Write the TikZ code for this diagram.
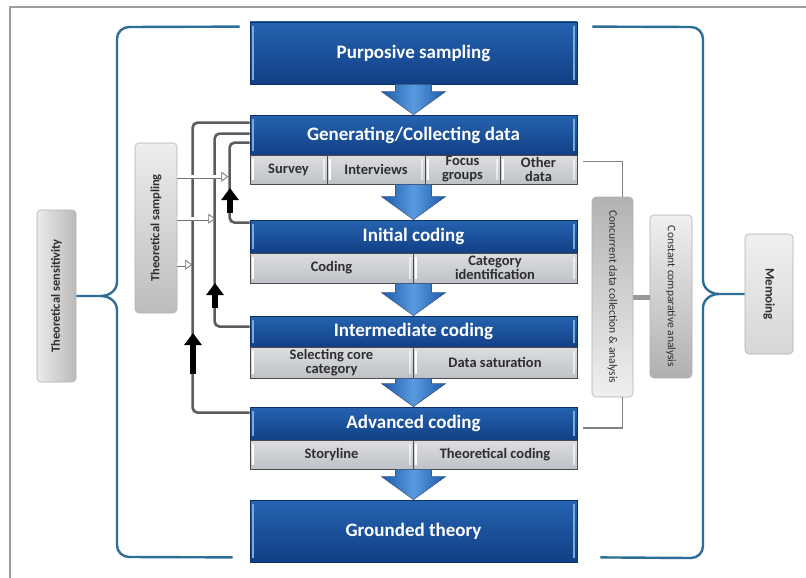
\documentclass[tikz,border=0pt]{standalone}
\usepackage{fontspec}
\setmainfont{Carlito}
\usetikzlibrary{arrows.meta,calc}

\definecolor{stageTop}{HTML}{2563B0}
\definecolor{stageBot}{HTML}{123F85}
\definecolor{stageEdge}{HTML}{0D2F66}
\definecolor{stageHi}{HTML}{78A9E0}
\definecolor{cellTop}{HTML}{DCDEE1}
\definecolor{cellBot}{HTML}{BEC1C6}
\definecolor{cellEdge}{HTML}{4A4A4A}
\definecolor{pipeGray}{HTML}{5C5C5C}
\definecolor{braceBlue}{HTML}{2C6E97}
\definecolor{frameGray}{HTML}{9C9C9C}
\definecolor{inkGray}{HTML}{2E2E2E}
\definecolor{flowDark}{HTML}{1C59AA}
\definecolor{flowLight}{HTML}{5A9BDF}

\tikzset{
  stage/.style={draw=stageEdge, line width=0.8pt, top color=stageTop, bottom color=stageBot,
    minimum width=327pt, inner sep=0pt, text=white,
    font=\bfseries\fontsize{19}{21}\selectfont},
  cell/.style={draw=cellEdge, line width=0.9pt, top color=cellTop, bottom color=cellBot,
    inner sep=0pt, text=inkGray, align=center,
    font=\bfseries\fontsize{14.5}{14}\selectfont},
  sidebox/.style={draw=black!30, line width=0.6pt, rounded corners=4pt, inner sep=0pt,
    text=inkGray},
  flow/.style={draw=stageEdge!80, line width=0.6pt, left color=flowDark,
    right color=flowDark, middle color=flowLight},
  pipe/.style={draw=pipeGray, line width=2.6pt, rounded corners=5pt},
  liftarrow/.style={draw=black, line width=5.5pt, -{Triangle[length=12pt,width=17pt]}},
  hollowarrow/.style={draw=black!55, line width=0.8pt, double=white, double distance=2.8pt,
    -{Triangle[open,length=7pt,width=10pt]}},
  link/.style={draw=black!50, line width=1.8pt},
  bar/.style={draw=black!40, line width=5pt},
  bracket/.style={draw=braceBlue, line width=2.4pt},
  highlight/.style={draw=stageHi, line width=1.4pt},
  cellshine/.style={draw=white, line width=1.6pt},
}

% block arrow from the bottom of one stage to the top of the next
\newcommand\flowarrow[2]{%
  \path[flow] let \p1=(#1.south), \p2=(#2.north) in
    (\x2-18pt,\y1) -- (\x2-18pt,\y2+23pt) -- (\x2-32pt,\y2+23pt) -- (\x2,\y2)
    -- (\x2+32pt,\y2+23pt) -- (\x2+18pt,\y2+23pt) -- (\x2+18pt,\y1) -- cycle;}

\begin{document}
\begin{tikzpicture}[x=1pt,y=-1pt]
\path[use as bounding box] (0,0) rectangle (806,578);
\clip (0,0) rectangle (806,578);
\fill[white] (0,0) rectangle (806,578);
\draw[frameGray, line width=1.4pt] (10,7) rectangle (830,600);

% ---- main column ----
\node[stage, minimum height=62pt] (ps) at (413.5,53) {Purposive sampling};

\node[stage, minimum height=40pt] (gc) at (413.5,135) {Generating/Collecting data};
\node[cell, minimum width=77pt, minimum height=29pt] (survey) at (288.5,169.5) {Survey};
\node[cell, minimum width=98pt, minimum height=29pt] (interviews) at (376,169.5) {Interviews};
\node[cell, minimum width=75pt, minimum height=29pt] (focus) at (462.5,169.5) {Focus\\groups};
\node[cell, minimum width=77pt, minimum height=29pt] (other) at (538.5,169.5) {Other\\data};

\node[stage, minimum height=33pt] (ic) at (413.5,236.5) {Initial coding};
\node[cell, minimum width=163pt, minimum height=30pt] (coding) at (331.5,268) {Coding};
\node[cell, minimum width=164pt, minimum height=30pt] (catid) at (495,268) {Category\\identification};

\node[stage, minimum height=31pt] (mc) at (413.5,331.5) {Intermediate coding};
\node[cell, minimum width=163pt, minimum height=31pt] (core) at (331.5,362.5) {Selecting core\\category};
\node[cell, minimum width=164pt, minimum height=31pt] (saturation) at (495,362.5) {Data saturation};

\node[stage, minimum height=33pt] (ac) at (413.5,423.5) {Advanced coding};
\node[cell, minimum width=163pt, minimum height=29pt] (story) at (331.5,454.5) {Storyline};
\node[cell, minimum width=164pt, minimum height=29pt] (theocoding) at (495,454.5) {Theoretical coding};

\node[stage, minimum height=62pt] (gt) at (413.5,531) {Grounded theory};

% glossy edges
\foreach \n in {ps,gc,ic,mc,ac,gt}{
  \draw[highlight] ($(\n.north west)+(3.5,4)$) -- ($(\n.south west)+(3.5,-4)$);
  \draw[highlight] ($(\n.north east)+(-3.5,4)$) -- ($(\n.south east)+(-3.5,-4)$);
}
\foreach \n in {survey,interviews,focus,other,coding,catid,core,saturation,story,theocoding}{
  \draw[cellshine] ($(\n.north west)+(3.5,4)$) -- ($(\n.south west)+(3.5,-4)$);
  \draw[cellshine, opacity=0.6] ($(\n.north east)+(-3.5,4)$) -- ($(\n.south east)+(-3.5,-4)$);
}

% block arrows
\flowarrow{ps}{gc}
\flowarrow{focus}{ic}
\flowarrow{catid}{mc}
\flowarrow{saturation}{ac}
\flowarrow{theocoding}{gt}

% ---- side boxes ----
\node[sidebox, left color=black!8, right color=black!27, minimum width=39pt, minimum height=172pt,
  font=\bfseries\fontsize{12.5}{13}\selectfont] (ts) at (56.5,296)
  {\rotatebox{90}{Theoretical sensitivity}};
\node[sidebox, top color=black!7, bottom color=black!26, minimum width=42pt, minimum height=170pt,
  font=\bfseries\fontsize{12.5}{13}\selectfont] (tsa) at (156,228)
  {\rotatebox{90}{Theoretical sampling}};
\node[sidebox, top color=black!30, bottom color=black!6, minimum width=41pt, minimum height=200pt,
  font=\fontsize{11.5}{12}\selectfont] (cd) at (612.5,297)
  {\rotatebox{-90}{Concurrent data collection \& analysis}};
\node[sidebox, top color=black!6, bottom color=black!31, minimum width=42pt, minimum height=163pt,
  font=\fontsize{11.5}{12}\selectfont] (cca) at (671,296.5)
  {\rotatebox{-90}{Constant comparative analysis}};
\node[sidebox, top color=black!6, bottom color=black!16, minimum width=48pt, minimum height=120pt,
  font=\bfseries\fontsize{13}{14}\selectfont] (mem) at (769,294)
  {\rotatebox{-90}{Memoing}};

% ---- feedback loops ----
\draw[pipe] ($(gc.north west)+(0,8)$) -- ++(-57,0) |- ($(ac.north west)+(0,6)$);
\draw[pipe] ($(gc.north west)+(0,19)$) -- ++(-35,0) |- ($(mc.north west)+(0,11)$);
\draw[pipe] ($(gc.north west)+(0,28)$) -- ++(-20,0) |- ($(ic.north west)+(0,3)$);

\coordinate (liftA) at (193,374);
\coordinate (liftB) at (215,308);
\coordinate (liftC) at (230,213);
\draw[liftarrow] (liftA) -- ++(0,-41);
\draw[liftarrow] (liftB) -- ++(0,-25);
\draw[liftarrow] (liftC) -- ++(0,-25);

\draw[hollowarrow] ($(tsa.north east)+(0,34)$) -- ++(51,0);
\draw[hollowarrow] ($(tsa.north east)+(0,76)$) -- ++(38,0);
\draw[hollowarrow] ($(tsa.north east)+(0,122)$) -- ++(15,0);

% ---- right-hand links ----
\draw[link] ($(other.north east)+(6,7)$) -| ($(cd.north)+(10,0)$);
\draw[link] ($(cd.south)+(10,0)$) |- ($(ac.north east)+(6,21)$);
\draw[bar] (cd.east) -- (cd.east -| cca.west);

% ---- braces ----
\draw[bracket] ($(ps.north west)+(-10,5)$) -- (129,27) to[out=180,in=90] (117,39)
  -- (117,282) to[out=-90,in=0] (101,296) -- (ts.east);
\draw[bracket] (101,296) to[out=0,in=90] (117,310) -- (117,545)
  to[out=-90,in=180] (129,557) -- ($(gt.south west)+(-17,-5)$);
\draw[bracket] ($(ps.north east)+(15,5)$) -- (691,27) to[out=0,in=90] (703,39)
  -- (703,280) to[out=-90,in=180] (719,294) -- (mem.west);
\draw[bracket] (719,294) to[out=180,in=90] (703,308) -- (703,546)
  to[out=-90,in=0] (691,558) -- ($(gt.south east)+(23,-5)$);
\end{tikzpicture}
\end{document}
